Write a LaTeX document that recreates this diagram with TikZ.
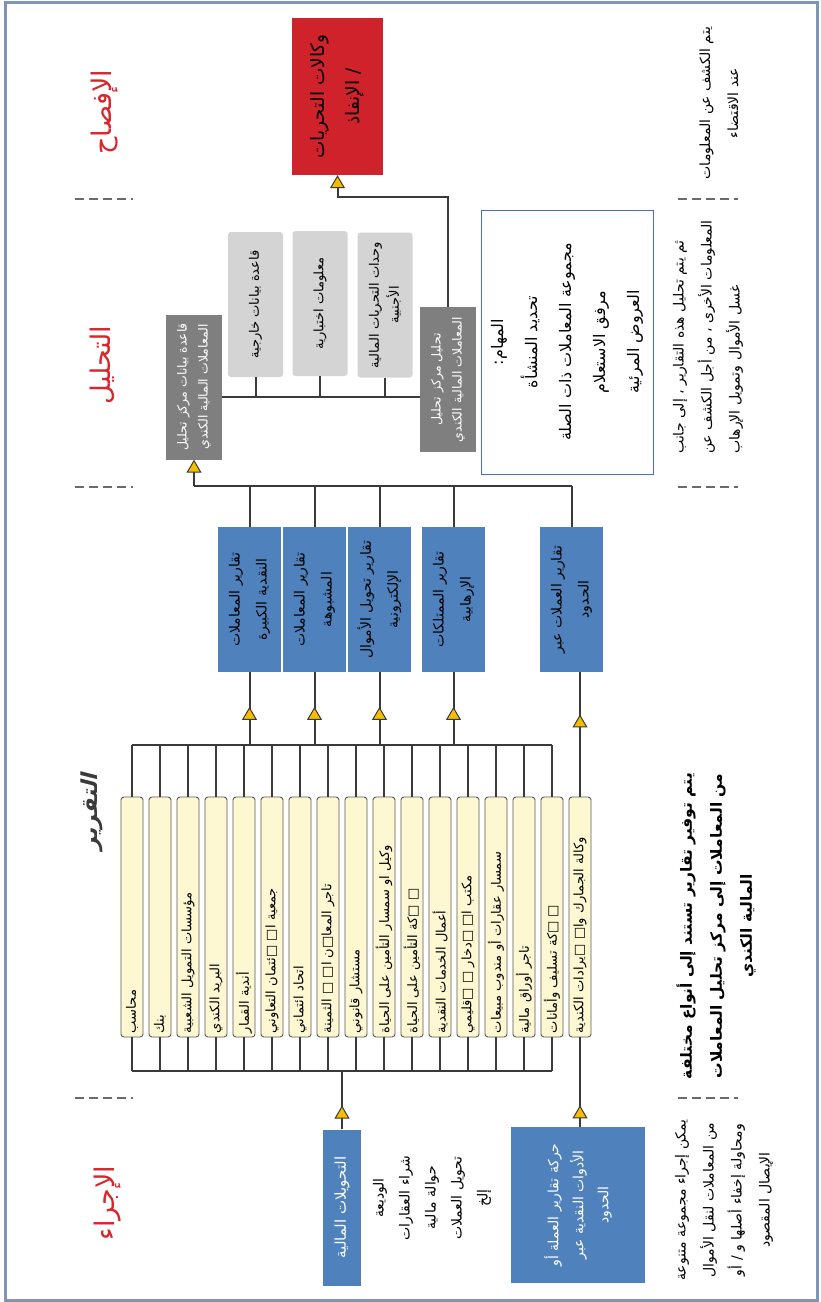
\documentclass[tikz,border=0pt]{standalone}
\usepackage{fontspec}
\usepackage{tikz}
\usetikzlibrary{arrows.meta,calc,decorations.markings}
\TeXXeTstate=1
\newfontfamily\arabicfont[Script=Arabic]{DejaVu Sans}
\newfontfamily\arabicslant[Script=Arabic,FakeSlant=0.25]{DejaVu Sans}
\newcommand{\arl}[1]{\beginR #1\endR}
\definecolor{boxRed}{HTML}{D0222A}
\definecolor{phaseRed}{HTML}{DA252C}
\definecolor{boxBlue}{HTML}{4F81BD}
\definecolor{boxDark}{HTML}{7F7F7F}
\definecolor{boxLight}{HTML}{D4D4D4}
\definecolor{itemCream}{HTML}{FDF8D2}
\definecolor{itemLine}{HTML}{5A5A5A}
\definecolor{taskBlue}{HTML}{4A6FC0}
\definecolor{wireGray}{HTML}{3A3A3A}
\definecolor{tipYellow}{HTML}{F5BD00}
\definecolor{sepGray}{HTML}{6A6A6A}
\definecolor{frameGray}{HTML}{7F95B5}

\begin{document}
\begin{tikzpicture}[x=1pt, y=-1pt,
    every node/.style={rotate=90, inner sep=0pt, font=\arabicfont},
    tritip/.tip={Triangle[length=13pt, width=15pt, line width=1pt, fill=tipYellow]},
    wire/.style={draw=wireGray, line width=2pt},
    flow/.style={wire, -{tritip}},
    midtri/.style={wire, postaction={decorate},
        decoration={markings, mark=at position #1 with {\arrow{tritip}}}},
    phase/.style={text=phaseRed, font=\arabicfont\fontsize{27}{30}\selectfont},
    note/.style={align=center, font=\arabicfont\fontsize{14}{28}\selectfont},
    redbox/.style={fill=boxRed, minimum width=157pt, minimum height=91pt, align=center,
        font=\arabicfont\fontsize{18.5}{35}\selectfont},
    darkbox/.style={fill=boxDark, text=white, minimum width=145pt, minimum height=56pt,
        align=center, font=\arabicfont\fontsize{12.5}{21}\selectfont},
    lightbox/.style={fill=boxLight, rounded corners=3pt, minimum width=145pt, minimum height=55pt,
        align=center, font=\arabicfont\fontsize{13}{20}\selectfont},
    taskbox/.style={draw=taskBlue, line width=1pt, minimum width=264pt, minimum height=172pt,
        align=center, font=\arabicfont\fontsize{16}{34}\selectfont},
    repbox/.style={fill=boxBlue, minimum width=145pt, minimum height=63pt, align=center,
        font=\arabicfont\fontsize{14}{27}\selectfont},
    placebox/.style={fill=boxBlue, text=white, minimum width=156pt, align=center},
    entity/.style={fill=itemCream, draw=itemLine, line width=0.9pt, rounded corners=3pt,
        minimum width=240pt, minimum height=22pt, text width=232pt, align=left,
        font=\arabicfont\fontsize{13}{14}\selectfont},
    sep/.style={draw=sepGray, line width=2.5pt, dash pattern=on 9pt off 5pt}]

    \useasboundingbox (0,0) rectangle (820,1302);
    \fill[white] (0,0) rectangle (820,1302);
    \draw[frameGray, line width=3pt] (5,2) rectangle (817,1300);

    % phase titles and separators
    \node[phase] (ph4) at (105,112) {\arl{الإفصاح}};
    \node[phase] (ph3) at (102,365) {\arl{التحليل}};
    \node[phase, text=wireGray, font=\arabicslant\bfseries\fontsize{22}{26}\selectfont] (ph2) at (92,812) {\arl{التقرير}};
    \node[phase] (ph1) at (108,1203) {\arl{الإجراء}};
    \foreach \y in {199,487,1098} {
        \draw[sep] (75,\y) -- (133,\y);
        \draw[sep] (678,\y) -- (738,\y);
    }

    % disclosure
    \node[redbox] (agency) at (337.5,96.5) {\arl{وكالات التحريات}\\\arl{/ الإنفاذ}};
    \node[note] (n4) at (719,103) {\arl{يتم الكشف عن المعلومات}\\\arl{عند الاقتضاء}};

    % analysis
    \node[darkbox] (fdb) at (194,387) {\arl{قاعدة بيانات مركز تحليل}\\\arl{المعاملات المالية الكندي}};
    \node[lightbox] (ext) at (255.5,304.5) {\arl{قاعدة بيانات خارجية}};
    \node[lightbox] (intel) at (320,303.5) {\arl{معلومات اختبارية}};
    \node[lightbox] (fiu) at (385,305) {\arl{وحدات التحريات المالية}\\\arl{الأجنبية}};
    \node[darkbox] (fintrac) at (448,379.5) {\arl{تحليل مركز تحليل}\\\arl{المعاملات المالية الكندي}};
    \node[taskbox] (tasks) at (567,342) {\arl{المهام:}\\\arl{تحديد المنشأة}\\\arl{مجموعة المعاملات ذات الصلة}\\\arl{مرفق الاستعلام}\\\arl{العروض المرئية}};
    \node[note, align=left] (n3) at (708,337) {\arl{ثم يتم تحليل هذه التقارير ، إلى جانب}\\\arl{المعلومات الأخرى ، من أجل الكشف عن}\\\arl{غسل الأموال وتمويل الإرهاب}};

    % reporting
    \node[repbox] (lctr) at (249.5,599.5) {\arl{تقارير المعاملات}\\\arl{النقدية الكبيرة}};
    \node[repbox] (str) at (314.5,599.5) {\arl{تقارير المعاملات}\\\arl{المشبوهة}};
    \node[repbox] (eftr) at (379.5,599.5) {\arl{تقارير تحويل الأموال}\\\arl{الإلكترونية}};
    \node[repbox] (tpr) at (453.5,599.5) {\arl{تقارير الممتلكات}\\\arl{الإرهابية}};
    \node[repbox] (cbcr) at (571.5,599.5) {\arl{تقارير العملات عبر}\\\arl{الحدود}};
    \foreach \i/\txt in {1/محاسب, 2/بنك, 3/مؤسسات التمويل الشعبية, 4/البريد الكندي,
        5/أندية القمار, 6/جمعية ا□ □ئتمان التعاوني, 7/اتحاد ائتماني,
        8/تاجر المعا□ن ا□ □ الثمينة, 9/مستشار قانوني, 10/وكيل او سمسار التأمين على الحياة,
        11/□ □كة التأمين على الحياة, 12/أعمال الخدمات النقدية, 13/مكتب ا□ □دخار □ □قليمي,
        14/سمسار عقارات أو مندوب مبيعات, 15/تاجر أوراق مالية, 16/□ □كة تسليف وأمانات,
        17/وكالة الجمارك وا□ □يرادات الكندية}
        \node[entity] (ent\i) at ({132+28*(\i-1)},917) {\arl{\txt}};
    \node[note, font=\arabicfont\bfseries\fontsize{15.5}{30}\selectfont] (n2) at (716,926) {\arl{يتم توفير تقارير تستند إلى أنواع مختلفة}\\\arl{من المعاملات إلى مركز تحليل المعاملات}\\\arl{المالية الكندي}};

    % placement
    \node[placebox, minimum height=38pt, font=\arabicfont\fontsize{15}{18}\selectfont] (transfers) at (342,1207.5) {\arl{التحويلات المالية}};
    \node[note, font=\arabicfont\fontsize{14}{26}\selectfont] (examples) at (432,1198) {\arl{الوديعة}\\\arl{شراء العقارات}\\\arl{حوالة مالية}\\\arl{تحويل العملات}\\\arl{إلخ}};
    \node[placebox, minimum height=134pt, font=\arabicfont\fontsize{14}{25}\selectfont] (crossborder) at (578,1205) {\arl{حركة تقارير العملة أو}\\\arl{الأدوات النقدية عبر}\\\arl{الحدود}};
    \node[note] (n1) at (724,1200) {\arl{يمكن إجراء مجموعة متنوعة}\\\arl{من المعاملات لنقل الأموال}\\\arl{ومحاولة إخفاء أصلها و / أو}\\\arl{الإيصال المقصود}};

    % connectors: analysis -> disclosure
    \draw[flow] (fintrac.east) -- ++(0,-110) -| (agency.west);
    \coordinate (abar) at ($(fdb.south)+(0,10)$);
    \draw[wire] (abar) -- (abar -| fintrac.north);
    \foreach \n in {ext,intel,fiu}
        \draw[wire] (\n.west) -- (\n.west |- abar);

    % reporting -> analysis
    \coordinate (rbar) at ($(fdb.west)+(0,26)$);
    \draw[flow] (rbar) -- (fdb.west);
    \draw[wire] (rbar) -- (rbar -| cbcr.east);
    \foreach \n in {lctr,str,eftr,tpr,cbcr}
        \draw[wire] (\n.east) -- (\n.east |- rbar);

    % reporting entities -> reports
    \coordinate (tbar) at ($(ent1.east)+(0,-52)$);
    \draw[wire] (tbar) -- (tbar -| ent16.east);
    \foreach \i in {1,...,16}
        \draw[wire] (ent\i.east) -- (ent\i.east |- tbar);
    \foreach \n in {lctr,str,eftr,tpr}
        \draw[midtri=0.52] (\n.west |- tbar) -- (\n.west);
    \draw[midtri=0.66] (ent17.east) -- (ent17.east |- cbcr.west);

    % placement -> reporting entities
    \coordinate (bbar) at ($(ent1.west)+(0,34)$);
    \draw[wire] (bbar) -- (bbar -| ent16.west);
    \foreach \i in {1,...,16}
        \draw[wire] (ent\i.west) -- (ent\i.west |- bbar);
    \draw[midtri=0.41] (transfers.east) -- (transfers.east |- bbar);
    \draw[midtri=0.24] (ent17.west |- crossborder.east) -- (ent17.west);
\end{tikzpicture}
\end{document}
